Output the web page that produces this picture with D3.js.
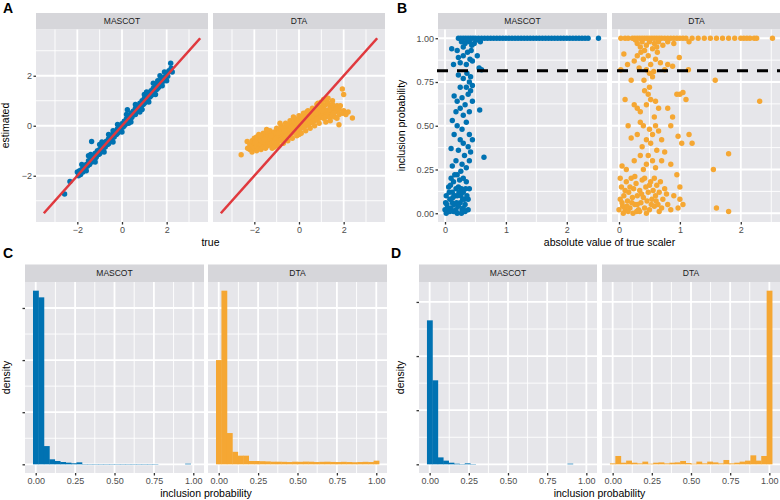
<!DOCTYPE html>
<html>
<head>
<meta charset="utf-8">
<script src="https://cdn.jsdelivr.net/npm/d3@7"></script>
<style>
  body { margin: 0; background: #fff; }
  text { font-family: "Liberation Sans", Arial, sans-serif; }
</style>
</head>
<body>
<script>
// ---- data ----
var methods = ["MASCOT", "DTA"];

// A: true vs estimated scaler
var aMascot = [[-2.57,-2.73],[-2.33,-2.23],[-2.0,-1.85],[-1.95,-2.0],[-1.9,-1.8],[-1.85,-1.95],[-1.8,-1.75],[-1.75,-1.85],[-1.7,-1.6],[-1.65,-1.72],[-1.6,-1.55],[-1.55,-1.62],[-1.5,-1.4],[-1.45,-1.55],[-1.4,-1.35],[-1.36,-0.63],[-1.35,-1.45],[-1.3,-1.2],[-1.25,-1.35],[-1.2,-1.1],[-1.15,-1.25],[-1.1,-1.0],[-1.05,-1.15],[-1.0,-0.95],[-0.95,-1.05],[-0.9,-0.85],[-0.85,-0.95],[-0.8,-0.72],[-0.75,-0.85],[-0.7,-0.62],[-0.65,-0.75],[-0.6,-0.52],[-0.55,-0.65],[-0.5,-0.45],[-0.45,-0.55],[-0.4,-0.32],[-0.35,-0.45],[-0.3,-0.22],[-0.25,-0.35],[-0.2,-0.12],[-0.15,-0.25],[-0.1,-0.02],[-0.05,-0.15],[0.0,0.08],[0.05,-0.05],[0.1,0.18],[0.15,0.05],[0.2,0.28],[0.24,0.64],[0.25,0.15],[0.3,0.38],[0.35,0.25],[0.4,0.5],[0.45,0.35],[0.5,0.58],[0.55,0.45],[0.6,0.7],[0.65,0.55],[0.7,0.78],[0.75,0.65],[0.8,0.9],[0.85,0.75],[0.9,1.0],[0.95,0.85],[1.0,1.1],[1.05,0.95],[1.1,1.2],[1.15,1.05],[1.2,1.32],[1.25,1.15],[1.3,1.4],[1.35,1.25],[1.4,1.5],[1.45,1.38],[1.5,1.62],[1.55,1.45],[1.6,1.7],[1.65,1.55],[1.7,1.8],[1.75,1.65],[1.8,1.9],[1.85,1.78],[1.9,1.95],[1.95,1.85],[2.0,2.1],[2.05,1.98],[2.1,2.2],[2.18,2.5],[2.2,2.3],[2.25,2.15],[-1.2,-1.3],[-0.6,-0.72],[0.1,0.0],[0.7,0.6],[1.3,1.2],[-0.2,-0.3],[0.4,0.3],[1.0,0.9],[-1.0,-1.12],[1.6,1.5],[1.6,1.8],[0.6,0.45],[-0.4,-0.2],[1.9,2.15],
  [-1.8,-1.55],[-1.6,-1.8],[-1.4,-1.15],[-1.2,-1.45],[-1.0,-0.75],[-0.8,-1.05],[-0.6,-0.35],[-0.4,-0.65],[-0.2,0.05],[0.0,-0.25],[0.2,0.45],[0.4,0.15],[0.6,0.85],[0.8,0.55],[1.0,1.25],[1.2,0.95],[1.4,1.7],[1.5,1.25],[1.7,2.0],[1.8,1.6],[2.0,1.8],[-0.9,-0.65],[0.3,0.1],[1.1,1.35],[-1.5,-1.2],[0.9,0.65]];
var aDta = [[-2.59,-1.16],[-2.32,-0.63],[-2.2,-0.95],[-2.2,-0.75],[-2.1,-0.85],[-2.1,-0.6],[-2.1,-1.05],[-2.0,-0.7],[-2.0,-0.9],[-2.0,-0.5],[-1.9,-0.8],[-1.9,-0.6],[-1.9,-1.0],[-1.9,-0.45],[-1.8,-0.7],[-1.8,-0.55],[-1.8,-0.9],[-1.8,-0.35],[-1.7,-0.75],[-1.7,-0.5],[-1.7,-0.95],[-1.7,-0.6],[-1.6,-0.65],[-1.6,-0.45],[-1.6,-0.85],[-1.6,-0.3],[-1.5,-0.7],[-1.5,-0.5],[-1.5,-0.3],[-1.5,-0.9],[-1.4,-0.6],[-1.4,-0.4],[-1.4,-0.8],[-1.4,-0.25],[-1.3,-0.55],[-1.3,-0.35],[-1.3,-0.75],[-1.3,-0.2],[-1.2,-0.5],[-1.2,-0.3],[-1.2,-0.7],[-1.2,-0.9],[-1.1,-0.45],[-1.1,-0.25],[-1.1,-0.65],[-1.1,-0.85],[-1.0,-0.5],[-1.0,-0.3],[-1.0,-0.1],[-1.0,-0.7],[-0.9,-0.4],[-0.9,-0.2],[-0.9,-0.6],[-0.9,-0.8],[-0.8,-0.35],[-0.8,-0.15],[-0.8,-0.55],[-0.8,0.0],[-0.7,-0.3],[-0.7,-0.1],[-0.7,-0.5],[-0.7,-0.7],[-0.6,-0.25],[-0.6,-0.05],[-0.6,-0.45],[-0.6,0.1],[-0.5,-0.2],[-0.5,0.0],[-0.5,-0.4],[-0.5,-0.6],[-0.4,-0.15],[-0.4,0.05],[-0.4,-0.35],[-0.4,0.2],[-0.3,-0.1],[-0.3,0.1],[-0.3,-0.3],[-0.3,-0.5],[-0.2,-0.05],[-0.2,0.15],[-0.2,-0.25],[-0.2,0.3],[-0.1,0.0],[-0.1,0.2],[-0.1,-0.2],[-0.1,-0.4],[0.0,0.05],[0.0,0.25],[0.0,-0.15],[0.0,0.4],[0.0,-0.35],[0.1,0.1],[0.1,0.3],[0.1,-0.1],[0.1,-0.3],[0.2,0.15],[0.2,0.35],[0.2,-0.05],[0.2,0.5],[0.3,0.2],[0.3,0.4],[0.3,0.0],[0.3,-0.2],[0.4,0.25],[0.4,0.45],[0.4,0.05],[0.4,0.6],[0.5,0.3],[0.5,0.5],[0.5,0.1],[0.5,-0.1],[0.6,0.35],[0.6,0.55],[0.6,0.15],[0.6,0.7],[0.7,0.4],[0.7,0.6],[0.7,0.2],[0.7,0.0],[0.8,0.45],[0.8,0.65],[0.8,0.25],[0.8,0.85],[0.9,0.5],[0.9,0.7],[0.9,0.3],[0.9,0.1],[1.0,0.55],[1.0,0.75],[1.0,0.35],[1.0,0.95],[1.1,0.5],[1.1,0.8],[1.1,0.3],[1.1,1.05],[1.2,0.55],[1.2,0.85],[1.2,0.35],[1.2,0.15],[1.3,0.6],[1.3,0.9],[1.3,0.4],[1.3,1.1],[1.4,0.55],[1.4,0.8],[1.4,0.35],[1.4,0.2],[1.5,0.6],[1.5,0.85],[1.5,0.4],[1.5,1.0],[1.6,0.55],[1.6,0.75],[1.6,0.35],[1.7,0.6],[1.7,0.8],[1.7,0.3],[1.79,0.04],[1.8,0.65],[1.8,0.45],[1.94,1.47],[2.0,1.25],[2.0,0.6],[2.1,0.45],[2.2,0.55],[2.39,0.31],
  [-1.75,-0.4],[-1.45,-0.15],[-0.85,0.1],[-0.25,0.35],[0.35,0.55],[0.85,0.9],[1.25,1.0],[1.45,0.7],[1.65,0.65],[1.55,0.5],[1.75,0.7],[1.35,0.65],[1.15,0.65],[-2.3,-0.9],[-1.95,-0.65],[-1.55,-0.55],[-1.25,-0.4],[-0.95,-0.3],[-0.65,-0.2],[-0.35,-0.05],[0.05,0.15],[0.45,0.35],[0.75,0.5],[1.05,0.6],[1.95,0.5],[1.85,0.8]];
var identityLine = [-3.5, 3.5];

// B: |true scaler| vs inclusion probability
var bMascot = [[0.22,1],[0.26,1],[0.3,1],[0.34,1],[0.38,1],[0.42,1],[0.46,1],[0.5,1],[0.55,1],[0.6,1],[0.65,1],[0.7,1],[0.75,1],[0.8,1],[0.85,1],[0.9,1],[0.95,1],[1.0,1],[1.05,1],[1.1,1],[1.15,1],[1.2,1],[1.25,1],[1.3,1],[1.35,1],[1.4,1],[1.45,1],[1.5,1],[1.55,1],[1.6,1],[1.65,1],[1.7,1],[1.75,1],[1.8,1],[1.85,1],[1.9,1],[1.95,1],[2.0,1],[2.05,1],[2.1,1],[2.15,1],[2.2,1],[2.25,1],[2.3,1],[2.35,1],[2.52,1],
  [0.27,0.98],[0.33,0.97],[0.4,0.98],[0.48,0.97],[0.36,0.99],[0.52,0.99],[0.58,0.98],[0.44,0.96],[0.3,0.95],
  [0.11,0.94],[0.22,0.89],[0.25,0.86],[0.37,0.92],[0.41,0.88],[0.53,0.9],[0.56,0.83],[0.6,0.82],[0.14,0.85],[0.3,0.9],[0.45,0.87],[0.35,0.85],[0.2,0.93],[0.43,0.93],
  [0.22,0.79],[0.3,0.77],[0.35,0.72],[0.4,0.75],[0.42,0.7],[0.38,0.68],[0.45,0.73],[0.28,0.66],[0.2,0.64],[0.15,0.67],[0.25,0.6],[0.33,0.62],[0.4,0.58],[0.57,0.59],[0.45,0.64],[0.3,0.56],[0.18,0.58],[0.36,0.8],[0.42,0.78],[0.25,0.72],
  [0.12,0.53],[0.2,0.5],[0.28,0.48],[0.35,0.52],[0.4,0.45],[0.15,0.45],[0.25,0.42],[0.3,0.4],[0.38,0.38],[0.22,0.36],[0.1,0.37],[0.32,0.33],[0.4,0.3],[0.18,0.3],[0.28,0.28],[0.64,0.32],[0.35,0.26],[0.12,0.27],[0.45,0.42],[0.42,0.35],
  [0.0,0.02],[0.03,0.05],[0.05,0.01],[0.08,0.08],[0.1,0.03],[0.12,0.12],[0.15,0.05],[0.18,0.02],[0.2,0.1],[0.22,0.15],[0.25,0.06],[0.28,0.02],[0.3,0.12],[0.33,0.05],[0.35,0.18],[0.38,0.08],[0.4,0.14],[0.02,0.1],[0.06,0.15],[0.1,0.2],[0.14,0.18],[0.16,0.1],[0.2,0.22],[0.24,0.19],[0.27,0.14],[0.3,0.2],[0.32,0.08],[0.36,0.1],[0.04,0.03],[0.08,0.01],[0.12,0.06],[0.18,0.14],[0.22,0.04],[0.26,0.1],[0.3,0.03],[0.34,0.14],[0.38,0.02],[0.07,0.12],[0.13,0.09],[0.19,0.06],[0.23,0.12],[0.29,0.08],[0.01,0.06],[0.16,0.22],[0.26,0.24],[0.09,0.16],[0.02,0.0],[0.14,0.01],[0.2,0.0],[0.27,0.0],[0.33,0.01]];
var bDta = [[0.03,1],[0.1,1],[0.15,1],[0.22,1],[0.26,1],[0.3,1],[0.34,1],[0.38,1],[0.42,1],[0.46,1],[0.5,1],[0.54,1],[0.58,1],[0.62,1],[0.66,1],[0.7,1],[0.75,1],[0.8,1],[0.85,1],[0.9,1],[0.95,1],[1.0,1],[1.05,1],[1.1,1],[1.2,1],[1.3,1],[1.4,1],[1.5,1],[1.6,1],[1.7,1],[1.8,1],[1.9,1],[2.0,1],[2.05,1],[2.1,1],[2.15,1],[2.22,1],[2.26,1],[2.52,1],
  [0.3,0.97],[0.38,0.98],[0.45,0.96],[0.5,0.98],[0.58,0.97],[0.65,0.98],[0.72,0.96],[0.8,0.98],[0.35,0.95],[0.55,0.94],[0.9,0.97],[1.15,0.98],[0.27,0.99],[0.62,0.95],[0.42,0.93],
  [0.08,0.91],[0.14,0.85],[0.03,0.82],[0.33,0.83],[0.3,0.9],[0.4,0.88],[0.48,0.9],[0.52,0.85],[0.6,0.88],[0.68,0.86],[0.75,0.82],[0.8,0.85],[0.88,0.84],[0.99,0.89],[1.14,0.82],[0.45,0.82],[0.57,0.81],[0.36,0.92],[0.25,0.87],[0.63,0.92],[0.5,0.8],
  [0.41,0.76],[0.2,0.76],[1.58,0.76],[2.31,0.64],[0.55,0.78],[0.5,0.72],[0.48,0.68],[0.52,0.65],[0.45,0.62],[0.1,0.65],[0.3,0.6],[0.25,0.62],[0.35,0.58],[0.6,0.64],[0.65,0.6],[0.58,0.55],[0.95,0.68],[1.0,0.68],[1.05,0.69],[1.1,0.65],[0.8,0.6],[0.88,0.55],[0.42,0.7],
  [0.15,0.5],[0.2,0.43],[0.3,0.45],[0.35,0.52],[0.4,0.5],[0.45,0.42],[0.5,0.48],[0.55,0.45],[0.6,0.5],[0.65,0.47],[0.7,0.42],[0.85,0.5],[0.97,0.44],[1.03,0.4],[1.15,0.45],[1.2,0.4],[0.38,0.38],[0.48,0.33],[0.55,0.3],[0.62,0.36],[0.75,0.35],[0.25,0.3],[0.35,0.33],[0.45,0.28],[0.85,0.28],[0.7,0.3],[1.8,0.34],[1.55,0.25],[0.05,0.27],[0.12,0.25],[0.95,0.22],[0.52,0.4],[0.6,0.26],[0.4,0.25],
  [0.0,0.02],[0.02,0.08],[0.04,0.15],[0.06,0.04],[0.08,0.1],[0.1,0.02],[0.12,0.18],[0.14,0.07],[0.16,0.12],[0.18,0.03],[0.2,0.2],[0.22,0.09],[0.24,0.14],[0.26,0.05],[0.28,0.17],[0.3,0.1],[0.32,0.02],[0.34,0.13],[0.36,0.06],[0.38,0.19],[0.4,0.09],[0.42,0.03],[0.44,0.15],[0.46,0.07],[0.48,0.12],[0.5,0.02],[0.52,0.18],[0.54,0.08],[0.56,0.13],[0.58,0.04],[0.6,0.1],[0.62,0.16],[0.64,0.05],[0.66,0.12],[0.7,0.03],[0.72,0.08],[0.75,0.14],[0.8,0.05],[0.85,0.02],[0.9,0.1],[0.97,0.03],[1.0,0.08],[1.05,0.05],[1.0,0.15],[0.02,0.2],[0.1,0.13],[0.18,0.15],[0.26,0.21],[0.34,0.01],[0.42,0.2],[0.5,0.16],[0.58,0.2],[0.66,0.01],[0.07,0.0],[0.15,0.01],[0.23,0.0],[0.3,0.05],[0.45,0.0],[0.68,0.18],[0.78,0.11],[1.6,0.03],[1.8,0.01],[0.05,0.06],[0.13,0.04],[0.21,0.06],[0.29,0.01],[0.37,0.11],[0.53,0.05],[0.61,0.07]];
var cutoff = 0.814;

// C, D: histograms of inclusion probability (30 bins)
var binMids = [0,0.0345,0.069,0.1034,0.1379,0.1724,0.2069,0.2414,0.2759,0.3103,0.3448,0.3793,0.4138,0.4483,0.4828,0.5172,0.5517,0.5862,0.6207,0.6552,0.6897,0.7241,0.7586,0.7931,0.8276,0.8621,0.8966,0.931,0.9655,1];
var binWidth = 0.0345;
var cMascot = [16.66,16.02,1.75,0.48,0.32,0.22,0.16,0.10,0.19,0.03,0.03,0.03,0.03,0.03,0.03,0.03,0.03,0.03,0.03,0.03,0.03,0.03,0.03,0,0,0,0,0,0.06,0];
var cDta = [10.0,16.66,3.0,1.2,0.83,0.83,0.32,0.32,0.3,0.28,0.25,0.25,0.24,0.22,0.25,0.24,0.26,0.25,0.22,0.24,0.25,0.23,0.22,0.24,0.22,0.2,0.22,0.24,0.22,0.35];
var dMascot = [13.3,7.76,0.64,0.34,0.15,0.06,0.03,0.09,0.03,0,0,0,0,0,0,0,0,0,0,0,0,0,0,0,0,0,0.06,0,0,0];
var dDta = [0.09,0.77,0.15,0.34,0.15,0.09,0.25,0.06,0.15,0.18,0.09,0.15,0.18,0.31,0.12,0.06,0.25,0.09,0.25,0.18,0.09,0.4,0.09,0.15,0.25,0.34,0.83,0.34,0.77,16.04];

var colors = {MASCOT: "#0072B2", DTA: "#F5A733"};
var panelFill = "#E6E6EA", stripFill = "#D6D6DA";

var svg = d3.select("body").append("svg")
    .attr("width", 780)
    .attr("height", 500);

// draws one facet (strip, panel, grid, axes) and returns its scales
function facet(p) {
    var x = d3.scaleLinear().domain(p.xDomain).range([p.left, p.right]);
    var y = d3.scaleLinear().domain(p.yDomain).range([p.bottom, p.top]);

    svg.append("rect")
        .attr("x", p.left).attr("y", p.stripTop)
        .attr("width", p.right - p.left).attr("height", p.top - p.stripTop)
        .attr("fill", stripFill);
    svg.append("text")
        .attr("x", (p.left + p.right) / 2)
        .attr("y", (p.stripTop + p.top) / 2)
        .attr("dy", "0.35em")
        .attr("text-anchor", "middle")
        .attr("font-size", 8.5)
        .attr("fill", "#1a1a1a")
        .text(p.strip);

    svg.append("rect")
        .attr("x", p.left).attr("y", p.top)
        .attr("width", p.right - p.left).attr("height", p.bottom - p.top)
        .attr("fill", panelFill);

    // grid: minor first, then major
    var grid = svg.append("g").attr("stroke", "#fff");
    [[p.xMinor, 0.9], [p.xMajor, 1.8]].forEach(function(s) {
        grid.selectAll(null).data(s[0]).enter().append("line")
            .attr("x1", x).attr("x2", x)
            .attr("y1", p.top).attr("y2", p.bottom)
            .attr("stroke-width", s[1]);
    });
    [[p.yMinor, 0.9], [p.yMajor, 1.8]].forEach(function(s) {
        grid.selectAll(null).data(s[0]).enter().append("line")
            .attr("y1", y).attr("y2", y)
            .attr("x1", p.left).attr("x2", p.right)
            .attr("stroke-width", s[1]);
    });

    var xa = svg.append("g")
        .attr("transform", "translate(0," + p.bottom + ")")
        .call(d3.axisBottom(x).tickValues(p.xMajor).tickSize(2.5).tickPadding(2).tickFormat(p.xFmt));
    styleAxis(xa);

    if (p.showY) {
        var ya = svg.append("g")
            .attr("transform", "translate(" + p.left + ",0)")
            .call(d3.axisLeft(y).tickValues(p.yMajor).tickSize(2.5).tickPadding(1.5).tickFormat(p.yFmt));
        styleAxis(ya);
    }
    return {x: x, y: y};
}

function styleAxis(g) {
    g.select(".domain").remove();
    g.attr("font-family", null).attr("font-size", 9);
    g.selectAll(".tick line").attr("stroke", "#333").attr("stroke-width", 1.3);
    g.selectAll(".tick text").attr("fill", "#4d4d4d");
}

function label(t, x, y) {
    svg.append("text").attr("x", x).attr("y", y)
        .attr("font-size", 14).attr("font-weight", "bold").text(t);
}

function axisTitle(t, x, y, rotate) {
    var el = svg.append("text")
        .attr("text-anchor", "middle")
        .attr("font-size", 10.5)
        .attr("fill", "#000")
        .text(t);
    if (rotate) el.attr("transform", "translate(" + x + "," + y + ") rotate(-90)");
    else el.attr("x", x).attr("y", y);
}

function dots(s, data, color) {
    svg.append("g").selectAll("circle")
        .data(data)
      .enter().append("circle")
        .attr("cx", function(d) { return s.x(d[0]); })
        .attr("cy", function(d) { return s.y(d[1]); })
        .attr("r", 2.7)
        .attr("fill", color);
}

function bars(s, values, color) {
    // slight overlap so neighbouring bins merge like one filled shape
    svg.append("g").selectAll("rect")
        .data(values)
      .enter().append("rect")
        .attr("x", function(d, i) { return s.x(binMids[i] - binWidth / 2); })
        .attr("width", s.x(binWidth) - s.x(0) + 0.4)
        .attr("y", function(d) { return s.y(d); })
        .attr("height", function(d) { return s.y(0) - s.y(d); })
        .attr("fill", color);
}

var fmtInt = d3.format("d"), fmt2 = d3.format(".2f");

// ---- Panel A ----
var aData = {MASCOT: aMascot, DTA: aDta};
[[36, 208], [213, 385]].forEach(function(ext, i) {
    var s = facet({left: ext[0], right: ext[1], stripTop: 13, top: 29.5, bottom: 222,
        xDomain: [-3.85, 3.85], yDomain: [-3.85, 3.85],
        xMajor: [-2, 0, 2], xMinor: [-3, -1, 1, 3], yMajor: [-2, 0, 2], yMinor: [-3, -1, 1, 3],
        xFmt: fmtInt, yFmt: fmtInt, showY: i === 0, strip: methods[i]});
    dots(s, aData[methods[i]], colors[methods[i]]);
    svg.append("line")
        .attr("x1", s.x(identityLine[0])).attr("y1", s.y(identityLine[0]))
        .attr("x2", s.x(identityLine[1])).attr("y2", s.y(identityLine[1]))
        .attr("stroke", "#E0393E").attr("stroke-width", 2.6);
});
label("A", 3, 13);
axisTitle("estimated", 9, 125.5, true);
axisTitle("true", 210.5, 246);

// ---- Panel B ----
var bData = {MASCOT: bMascot, DTA: bDta};
var bScales = [];
[[438, 607], [612, 781]].forEach(function(ext, i) {
    var s = facet({left: ext[0], right: ext[1], stripTop: 13, top: 29.5, bottom: 222,
        xDomain: [-0.115, 2.66], yDomain: [-0.05, 1.05],
        xMajor: [0, 1, 2], xMinor: [0.5, 1.5, 2.5], yMajor: [0, 0.25, 0.5, 0.75, 1], yMinor: [0.125, 0.375, 0.625, 0.875],
        xFmt: fmtInt, yFmt: fmt2, showY: i === 0, strip: methods[i]});
    dots(s, bData[methods[i]], colors[methods[i]]);
    bScales.push(s);
});
svg.append("line")
    .attr("x1", 437).attr("x2", 780)
    .attr("y1", bScales[0].y(cutoff)).attr("y2", bScales[0].y(cutoff))
    .attr("stroke", "#000").attr("stroke-width", 3)
    .attr("stroke-dasharray", "11,9");
label("B", 397, 13);
axisTitle("inclusion probability", 405, 125.5, true);
axisTitle("absolute value of true scaler", 609.5, 246);

// ---- Panels C and D ----
function histRow(exts, seriesList, ymax, letter, lx, yTitleX) {
    exts.forEach(function(ext, i) {
        var s = facet({left: ext[0], right: ext[1], stripTop: 264.5, top: 282, bottom: 473,
            xDomain: [-0.068, 1.068], yDomain: [-0.05 * ymax, 1.05 * ymax],
            xMajor: [0, 0.25, 0.5, 0.75, 1], xMinor: [0.125, 0.375, 0.625, 0.875],
            yMajor: [0, 5, 10, 15], yMinor: [2.5, 7.5, 12.5],
            xFmt: fmt2, yFmt: function() { return ""; }, showY: i === 0, strip: methods[i]});
        bars(s, seriesList[i], colors[methods[i]]);
    });
    label(letter, lx, 258);
    axisTitle("density", yTitleX, 377.5, true);
    axisTitle("inclusion probability", (exts[0][0] + exts[1][1]) / 2, 497);
}
histRow([[25, 204], [208, 387]], [cMascot, cDta], 16.66, "C", 3, 10);
histRow([[419, 597], [602, 780]], [dMascot, dDta], 16.04, "D", 391, 404);
</script>
</body>
</html>
